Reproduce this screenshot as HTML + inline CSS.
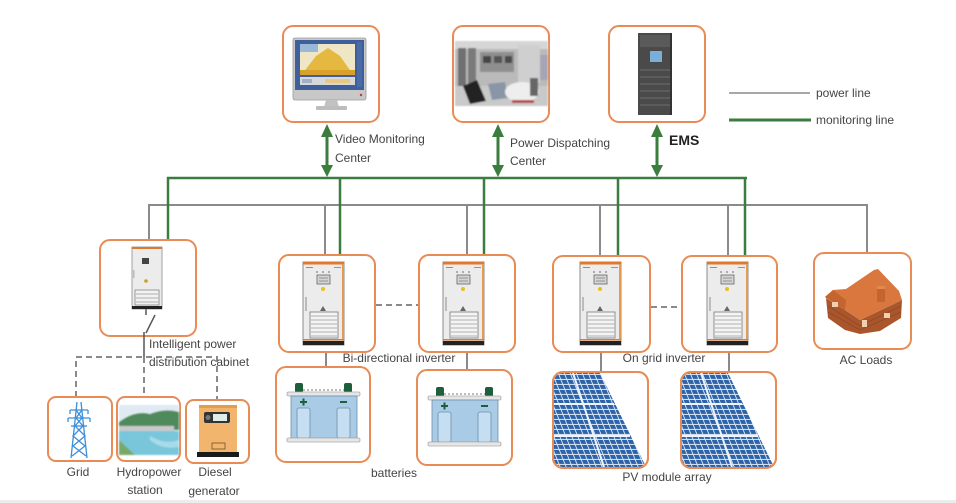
<!DOCTYPE html>
<html><head><meta charset="utf-8"><style>
html,body{margin:0;padding:0;background:#fff;}
svg{display:block;}
text{font-family:"Liberation Sans",sans-serif;fill:#444;font-size:12px;}
</style></head><body>
<svg width="956" height="503" viewBox="0 0 956 503" xmlns="http://www.w3.org/2000/svg">
<defs>
  <g id="inv">
    <rect x="0" y="0" width="41" height="83" fill="#ececec" stroke="#8c8c8c" stroke-width="1"/>
    <rect x="0" y="0" width="41" height="2.5" fill="#e0782e"/>
    <rect x="39" y="2" width="2" height="76" fill="#e39a55"/>
    <rect x="3" y="5" width="7" height="1" fill="#c08050"/>
    <rect x="31" y="5" width="7" height="1" fill="#e08040"/>
    <circle cx="14" cy="10" r="1" fill="#999"/><circle cx="20" cy="10" r="1" fill="#999"/><circle cx="26" cy="10" r="1" fill="#999"/>
    <rect x="14" y="13" width="13" height="9" fill="#d4d4d4" stroke="#666" stroke-width="0.8"/>
    <line x1="16" y1="16" x2="25" y2="16" stroke="#777" stroke-width="0.7"/>
    <line x1="16" y1="19" x2="25" y2="19" stroke="#777" stroke-width="0.7"/>
    <circle cx="20" cy="27" r="2" fill="#e8c020"/>
    <rect x="2" y="35" width="2" height="14" fill="#bbb"/>
    <polygon points="17,49 20,44 23,49" fill="#666"/>
    <rect x="7" y="50" width="28" height="26" fill="#f4f4f4" stroke="#777" stroke-width="0.8"/>
    <g stroke="#999" stroke-width="0.8">
      <line x1="8" y1="54" x2="34" y2="54"/><line x1="8" y1="58" x2="34" y2="58"/><line x1="8" y1="62" x2="34" y2="62"/>
      <line x1="8" y1="66" x2="34" y2="66"/><line x1="8" y1="70" x2="34" y2="70"/><line x1="8" y1="74" x2="34" y2="74"/>
    </g>
    <rect x="0" y="77" width="41" height="1.5" fill="#e0782e"/>
    <rect x="0" y="79" width="41" height="4" fill="#222"/>
  </g>
  <g id="bat">
    <rect x="295" y="383" width="8" height="10" rx="2" fill="#1f5e3a"/>
    <rect x="344" y="383" width="8" height="10" rx="2" fill="#1f5e3a"/>
    <line x1="303" y1="390" x2="344" y2="390" stroke="#777" stroke-width="1" stroke-dasharray="2 2"/>
    <rect x="287" y="392" width="73" height="4" rx="1.5" fill="#e6e6e6" stroke="#aaa" stroke-width="0.8"/>
    <rect x="291" y="396" width="66" height="42" fill="#a9cbe6" stroke="#6f8fa8" stroke-width="0.8"/>
    <rect x="297" y="408" width="13" height="30" rx="2" fill="#c5def1" stroke="#6f8fa8" stroke-width="0.8"/>
    <rect x="337" y="408" width="13" height="30" rx="2" fill="#c5def1" stroke="#6f8fa8" stroke-width="0.8"/>
    <rect x="300" y="401" width="7" height="2" fill="#1f5e3a"/><rect x="302.5" y="398.5" width="2" height="7" fill="#1f5e3a"/>
    <rect x="340" y="401" width="7" height="2" fill="#1f5e3a"/>
    <rect x="287" y="438" width="73" height="4" rx="1.5" fill="#e6e6e6" stroke="#aaa" stroke-width="0.8"/>
  </g>
  <pattern id="cells" width="6" height="5" patternUnits="userSpaceOnUse" patternTransform="skewX(22)">
    <rect width="6" height="5" fill="#d8e6f5"/>
    <rect width="5" height="4" fill="#2f63a8"/>
  </pattern>
  <clipPath id="pv1"><rect x="554" y="373" width="93" height="94" rx="9"/></clipPath>
  <clipPath id="pv2"><rect x="682" y="373" width="93" height="94" rx="9"/></clipPath>
  <filter id="blur"><feGaussianBlur stdDeviation="0.9"/></filter>
</defs>

<!-- legend -->
<line x1="729" y1="93" x2="810" y2="93" stroke="#8a8a8a" stroke-width="1.5"/>
<text x="816" y="97">power line</text>
<line x1="729" y1="120" x2="811" y2="120" stroke="#3a7d3e" stroke-width="3"/>
<text x="816" y="124">monitoring line</text>

<!-- top boxes -->
<g fill="#fff" stroke="#e98b55" stroke-width="2">
  <rect x="283" y="26" width="96" height="96" rx="10"/>
  <rect x="453" y="26" width="96" height="96" rx="10"/>
  <rect x="609" y="26" width="96" height="96" rx="10"/>
</g>

<!-- monitor -->
<rect x="293" y="38" width="73" height="62" rx="2" fill="#c8c8c8" stroke="#9a9a9a" stroke-width="0.8"/>
<rect x="295" y="40" width="69" height="50" fill="#3f5f9a"/>
<rect x="300" y="44" width="55" height="31" fill="#efe6c6"/>
<rect x="300" y="44" width="18" height="8" fill="#9ab8d8"/>
<polygon points="303,73 316,56 328,48 340,56 352,73" fill="#e5b940"/>
<rect x="300" y="70" width="55" height="5" fill="#d9a12b"/>
<rect x="300" y="77" width="55" height="8" fill="#d8d8d8"/>
<rect x="302" y="79" width="10" height="4" fill="#9fb0c8"/><rect x="325" y="79" width="25" height="4" fill="#e8c884"/>
<rect x="357" y="42" width="5" height="45" fill="#4a6aa8"/>
<circle cx="361" cy="95" r="1.2" fill="#c33"/>
<polygon points="326,100 337,100 339,107 324,107" fill="#c2c2c2"/>
<rect x="316" y="106" width="31" height="4" rx="1" fill="#bdbdbd"/>

<!-- photo -->
<g filter="url(#blur)">
  <rect x="455" y="41" width="93" height="65" fill="#bababa"/>
  <rect x="455" y="41" width="93" height="8" fill="#d6d6d6"/>
  <rect x="458" y="48" width="8" height="40" fill="#6f6f6f"/>
  <rect x="468" y="48" width="8" height="40" fill="#7a7a7a"/>
  <rect x="480" y="52" width="34" height="20" fill="#8f8f8f"/>
  <rect x="483" y="56" width="8" height="7" fill="#444"/><rect x="494" y="56" width="8" height="7" fill="#555"/><rect x="505" y="56" width="7" height="7" fill="#4a4a4a"/>
  <rect x="518" y="45" width="22" height="38" fill="#cfcfcf"/>
  <rect x="540" y="55" width="8" height="25" fill="#a5a5b5"/>
  <rect x="455" y="86" width="93" height="20" fill="#c9c9c9"/>
  <polygon points="463,86 477,80 486,101 470,104" fill="#222"/>
  <polygon points="488,84 505,82 508,98 492,100" fill="#8a96a8"/>
  <ellipse cx="522" cy="92" rx="17" ry="10" fill="#eeeeee"/>
  <rect x="530" y="78" width="8" height="18" fill="#666"/>
  <rect x="512" y="100" width="22" height="3" fill="#b84444"/>
</g>

<!-- EMS rack -->
<rect x="638" y="33" width="34" height="82" fill="#4a4a4a"/>
<rect x="640" y="35" width="30" height="12" fill="#5a5a5a"/>
<rect x="650" y="51" width="12" height="11" fill="#7ab0d8"/>
<g stroke="#6c6c6c" stroke-width="1">
  <line x1="640" y1="70" x2="670" y2="70"/><line x1="640" y1="77" x2="670" y2="77"/><line x1="640" y1="84" x2="670" y2="84"/>
  <line x1="640" y1="91" x2="670" y2="91"/><line x1="640" y1="98" x2="670" y2="98"/><line x1="640" y1="105" x2="670" y2="105"/>
</g>
<rect x="670" y="33" width="2" height="82" fill="#333"/>

<!-- green arrows -->
<g stroke="#3a7d3e" stroke-width="3">
  <line x1="327" y1="134" x2="327" y2="168"/>
  <line x1="498" y1="134" x2="498" y2="168"/>
  <line x1="657" y1="134" x2="657" y2="168"/>
</g>
<g fill="#3a7d3e">
  <polygon points="321,137 327,124 333,137"/><polygon points="321,165 327,177 333,165"/>
  <polygon points="492,137 498,124 504,137"/><polygon points="492,165 498,177 504,165"/>
  <polygon points="651,137 657,124 663,137"/><polygon points="651,165 657,177 663,165"/>
</g>
<text x="335" y="143">Video Monitoring</text>
<text x="335" y="162">Center</text>
<text x="510" y="147">Power Dispatching</text>
<text x="510" y="165">Center</text>
<text x="669" y="145" style="font-size:14px;font-weight:bold;fill:#222">EMS</text>

<!-- grey power lines -->
<g stroke="#8a8a8a" stroke-width="2" fill="none">
  <polyline points="149,240 149,205 867,205 867,253"/>
  <line x1="325" y1="205" x2="325" y2="255"/>
  <line x1="467" y1="205" x2="467" y2="255"/>
  <line x1="600" y1="205" x2="600" y2="256"/>
  <line x1="728" y1="205" x2="728" y2="256"/>
  <line x1="326" y1="352" x2="326" y2="367"/>
  <line x1="467" y1="352" x2="467" y2="370"/>
  <line x1="601" y1="352" x2="601" y2="372"/>
  <line x1="729" y1="352" x2="729" y2="372"/>
</g>
<!-- green monitoring lines -->
<g stroke="#3a7d3e" stroke-width="2.5" fill="none">
  <polyline points="168,240 168,178 747,178"/>
  <line x1="340" y1="178" x2="340" y2="255"/>
  <line x1="484" y1="178" x2="484" y2="255"/>
  <line x1="618" y1="178" x2="618" y2="256"/>
  <line x1="745" y1="178" x2="745" y2="256"/>
</g>
<!-- dashed links -->
<g stroke="#8a8a8a" stroke-width="2" stroke-dasharray="6 4" fill="none">
  <line x1="376" y1="305" x2="419" y2="305"/>
  <line x1="651" y1="307" x2="682" y2="307"/>
  <polyline points="76,397 76,357 217,357 217,400"/>
  <line x1="144" y1="357" x2="144" y2="397"/>
</g>

<!-- middle boxes -->
<g fill="#fff" stroke="#e98b55" stroke-width="2">
  <rect x="100" y="240" width="96" height="96" rx="10"/>
  <rect x="279" y="255" width="96" height="97" rx="10"/>
  <rect x="419" y="255" width="96" height="97" rx="10"/>
  <rect x="553" y="256" width="97" height="96" rx="10"/>
  <rect x="682" y="256" width="95" height="96" rx="10"/>
  <rect x="814" y="253" width="97" height="96" rx="10"/>
</g>

<!-- cabinet lines -->
<g stroke="#555" stroke-width="1.5" fill="none">
  <line x1="146" y1="309" x2="146" y2="315"/>
  <line x1="155" y1="315" x2="146" y2="333"/>
  <line x1="144" y1="332" x2="144" y2="357"/>
</g>
<!-- intelligent cabinet -->
<rect x="132" y="247" width="30" height="62" fill="#ececec" stroke="#8c8c8c" stroke-width="0.8"/>
<rect x="132" y="247" width="30" height="2" fill="#e0782e"/>
<rect x="142" y="258" width="7" height="6" fill="#444"/>
<circle cx="146" cy="281" r="1.8" fill="#c9a020"/>
<rect x="133" y="270" width="1.5" height="8" fill="#bbb"/>
<rect x="135" y="290" width="24" height="15" fill="#f2f2f2" stroke="#777" stroke-width="0.7"/>
<g stroke="#999" stroke-width="0.7"><line x1="136" y1="294" x2="158" y2="294"/><line x1="136" y1="298" x2="158" y2="298"/><line x1="136" y1="302" x2="158" y2="302"/></g>
<rect x="132" y="306" width="30" height="3" fill="#222"/>

<!-- inverters -->
<use href="#inv" x="303" y="262"/>
<use href="#inv" x="443" y="262"/>
<use href="#inv" x="580" y="262"/>
<use href="#inv" x="707" y="262"/>

<!-- house -->
<polygon points="826,298 845,310 860,320 902,300 901,318 880,331 860,334 845,330 828,318" fill="#a9562c"/>
<g stroke="#8b4320" stroke-width="0.6">
  <line x1="828" y1="306" x2="860" y2="326"/><line x1="828" y1="312" x2="860" y2="330"/>
  <line x1="860" y1="326" x2="901" y2="306"/><line x1="860" y1="330" x2="901" y2="312"/>
</g>
<polygon points="825,297 833,290 846,289 874,270 878,269 899,291 902,300 860,320 845,310" fill="#d9773e"/>
<polygon points="825,297 833,290 846,300 845,310" fill="#c4652f"/>
<rect x="877" y="287" width="8" height="15" fill="#c4652f"/>
<rect x="877" y="286" width="8" height="3" fill="#e08a50"/>
<rect x="832" y="302" width="6" height="5" fill="#f0d0b0"/>
<rect x="862" y="320" width="5" height="7" fill="#f0d0b0"/>
<rect x="884" y="313" width="6" height="5" fill="#f0d0b0"/>
<text x="866" y="364" text-anchor="middle">AC Loads</text>

<text x="149" y="348">Intelligent power</text>
<text x="149" y="366">distribution cabinet</text>
<text x="399" y="362" text-anchor="middle">Bi-directional inverter</text>
<text x="664" y="362" text-anchor="middle">On grid inverter</text>

<!-- bottom boxes -->
<g fill="#fff" stroke="#e98b55" stroke-width="2">
  <rect x="276" y="367" width="94" height="95" rx="10"/>
  <rect x="417" y="370" width="95" height="95" rx="10"/>
  <rect x="553" y="372" width="95" height="96" rx="10"/>
  <rect x="681" y="372" width="95" height="96" rx="10"/>
  <rect x="48" y="397" width="64" height="64" rx="8"/>
  <rect x="117" y="397" width="63" height="64" rx="8"/>
  <rect x="186" y="400" width="63" height="63" rx="8"/>
</g>

<!-- batteries -->
<use href="#bat"/>
<use href="#bat" transform="translate(141,4)"/>

<!-- PV panels -->
<g clip-path="url(#pv1)">
  <polygon points="553,373 600,373 646,467 553,467" fill="url(#cells)"/>
  <g stroke="#eef4fb" stroke-width="2">
    <line x1="553" y1="404" x2="614" y2="404"/><line x1="553" y1="436" x2="630" y2="436"/>
    <line x1="573" y1="373" x2="604" y2="467"/>
  </g>
</g>
<g clip-path="url(#pv2)">
  <polygon points="681,373 728,373 774,467 681,467" fill="url(#cells)"/>
  <g stroke="#eef4fb" stroke-width="2">
    <line x1="681" y1="404" x2="742" y2="404"/><line x1="681" y1="436" x2="758" y2="436"/>
    <line x1="701" y1="373" x2="732" y2="467"/>
  </g>
</g>
<rect x="553" y="372" width="95" height="96" rx="10" fill="none" stroke="#e98b55" stroke-width="2"/>
<rect x="681" y="372" width="95" height="96" rx="10" fill="none" stroke="#e98b55" stroke-width="2"/>

<text x="394" y="477" text-anchor="middle">batteries</text>
<text x="667" y="481" text-anchor="middle">PV module array</text>

<!-- grid tower -->
<g stroke="#3c8fd8" stroke-width="1.3" fill="none">
  <line x1="77" y1="402" x2="71" y2="458"/><line x1="81" y1="402" x2="87" y2="458"/>
  <line x1="70" y1="410" x2="88" y2="410"/><line x1="68" y1="418" x2="90" y2="418"/><line x1="71" y1="426" x2="87" y2="426"/>
  <polyline points="76,410 82,418 75,426 85,436 73,446 86,456"/>
  <polyline points="82,410 76,418 83,426 73,436 85,446 72,456"/>
  <line x1="70" y1="410" x2="70" y2="414"/><line x1="88" y1="410" x2="88" y2="414"/>
  <line x1="68" y1="418" x2="68" y2="422"/><line x1="90" y1="418" x2="90" y2="422"/>
</g>
<text x="78" y="476" text-anchor="middle">Grid</text>

<!-- hydropower -->
<g filter="url(#blur)">
  <rect x="119" y="405" width="60" height="50" fill="#dfeaf2"/>
  <path d="M119,422 Q135,410 150,414 Q165,408 179,412 L179,430 L119,430 Z" fill="#4f8a5c"/>
  <rect x="119" y="426" width="55" height="5" fill="#c9c9c9"/>
  <rect x="119" y="431" width="60" height="24" fill="#79c6db"/>
  <path d="M119,440 L135,455 L119,455 Z" fill="#7aa866"/>
  <path d="M150,436 Q165,445 179,440 L179,447 Q162,450 150,440 Z" fill="#a8dbe8"/>
</g>
<text x="149" y="476" text-anchor="middle">Hydropower</text>
<text x="145" y="494" text-anchor="middle">station</text>

<!-- diesel generator -->
<rect x="199" y="405" width="38" height="50" fill="#f2b56e"/>
<rect x="199" y="405" width="38" height="3" fill="#e39c4e"/>
<rect x="204" y="412" width="26" height="11" rx="2" fill="#333"/>
<circle cx="208" cy="417.5" r="2.5" fill="#777"/>
<rect x="213" y="414" width="14" height="7" fill="#dfeee6"/>
<rect x="212" y="443" width="13" height="6" fill="none" stroke="#6b5530" stroke-width="0.8"/>
<rect x="197" y="452" width="42" height="5" fill="#1a1a1a"/>
<text x="215" y="476" text-anchor="middle">Diesel</text>
<text x="214" y="495" text-anchor="middle">generator</text>

<rect x="0" y="500" width="956" height="3" fill="#ececec"/>
</svg>
</body></html>
